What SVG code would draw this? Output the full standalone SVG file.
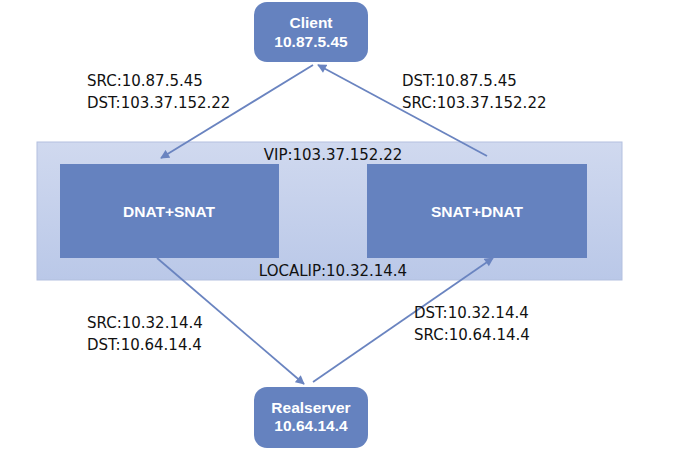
<svg xmlns="http://www.w3.org/2000/svg" width="677" height="461" viewBox="0 0 677 461">
<defs>
<linearGradient id="pg" x1="0" y1="0" x2="0" y2="1">
<stop offset="0" stop-color="#d0d9ef"/>
<stop offset="1" stop-color="#bac8e8"/>
</linearGradient>
<marker id="ah" viewBox="0 0 10 10" refX="9" refY="5" markerWidth="10" markerHeight="9" markerUnits="userSpaceOnUse" orient="auto">
<path d="M0,0 L10,5 L0,10 z" fill="#6a84c0"/>
</marker>
</defs>
<style>
.node{fill:#6582bf;}
.nt{font-family:"Liberation Sans",Arial,sans-serif;font-weight:bold;font-size:15.5px;fill:#ffffff;text-anchor:middle;}
.lb{font-family:"DejaVu Sans",Verdana,sans-serif;font-size:15px;fill:#111111;}
.cn{stroke:#6a84c0;stroke-width:1.8;fill:none;marker-end:url(#ah);}
</style>
<rect width="677" height="461" fill="#ffffff"/>
<g id="panel">
<rect x="37" y="142" width="585" height="138" fill="url(#pg)" stroke="#b3c0df" stroke-width="1"/>
<text class="lb" x="333" y="160" text-anchor="middle">VIP:103.37.152.22</text>
<text class="lb" x="333" y="276" text-anchor="middle">LOCALIP:10.32.14.4</text>
</g>
<g id="dnat-snat">
<rect class="node" x="60" y="164" width="219" height="94"/>
<text class="nt" x="169" y="217">DNAT+SNAT</text>
</g>
<g id="snat-dnat">
<rect class="node" x="367" y="164" width="220" height="94"/>
<text class="nt" x="477" y="217">SNAT+DNAT</text>
</g>
<g id="client">
<rect class="node" x="254" y="2" width="114" height="60" rx="13"/>
<text class="nt" x="311" y="28">Client</text>
<text class="nt" x="311" y="47">10.87.5.45</text>
</g>
<g id="realserver">
<rect class="node" x="254" y="387" width="114" height="61" rx="13"/>
<text class="nt" x="311" y="413">Realserver</text>
<text class="nt" x="311" y="431">10.64.14.4</text>
</g>
<g id="connectors">
<line class="cn" x1="313" y1="65" x2="161" y2="158"/>
<line class="cn" x1="487" y1="156" x2="318" y2="65"/>
<line class="cn" x1="157" y1="258" x2="304" y2="384"/>
<line class="cn" x1="313" y1="382" x2="493" y2="258"/>
</g>
<g id="labels">
<text class="lb" x="87" y="86">SRC:10.87.5.45</text>
<text class="lb" x="87" y="108">DST:103.37.152.22</text>
<text class="lb" x="402" y="86">DST:10.87.5.45</text>
<text class="lb" x="402" y="108">SRC:103.37.152.22</text>
<text class="lb" x="87" y="328">SRC:10.32.14.4</text>
<text class="lb" x="87" y="350">DST:10.64.14.4</text>
<text class="lb" x="414" y="318">DST:10.32.14.4</text>
<text class="lb" x="414" y="340">SRC:10.64.14.4</text>
</g>
</svg>
